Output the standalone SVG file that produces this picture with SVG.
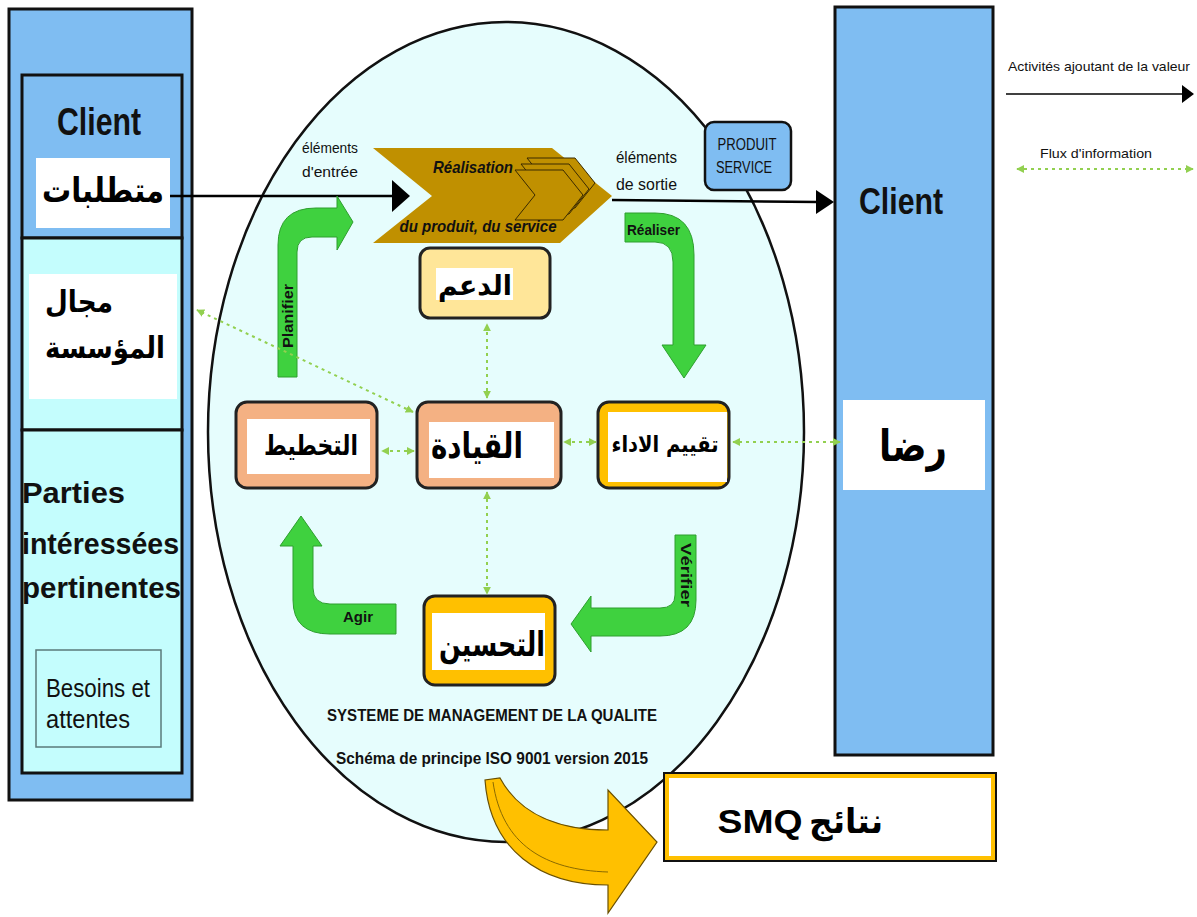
<svg xmlns="http://www.w3.org/2000/svg" width="1197" height="917" viewBox="0 0 1197 917">
  <style>
    .panel { fill: #7fbdf2; stroke: #111; stroke-width: 3; }
    .cyan { fill: #c4fdfd; stroke: #111; stroke-width: 3; }
    .white { fill: #ffffff; }
    .salmon { fill: #f4b183; stroke: #222; stroke-width: 3; }
    .gold { fill: #ffc000; stroke: #222; stroke-width: 3; }
    .pale { fill: #ffe699; stroke: #222; stroke-width: 3; }
    .green { fill: #3fd13f; stroke: #2e9e2e; stroke-width: 1; }
    .flow { stroke: #000; stroke-width: 2.5; fill: none; }
    .info { stroke: #92d050; stroke-width: 2; stroke-dasharray: 3 4; fill: none; marker-start: url(#dot-head); marker-end: url(#dot-head); }
    .ar { font-family: "DejaVu Sans", "Noto Sans", sans-serif; font-weight: bold; fill: #000; }
    .fr { font-family: "Liberation Sans", Arial, sans-serif; fill: #111; }
    .b { font-weight: bold; }
  </style>
  <defs>
    <marker id="dot-head" viewBox="0 0 10 10" refX="9" refY="5" markerWidth="4" markerHeight="4" orient="auto-start-reverse" markerUnits="strokeWidth">
      <path d="M0,0 L10,5 L0,10 Z" fill="#92d050"/>
    </marker>
  </defs>

  <!-- left column: client and interested parties -->
  <g id="left-panel">
    <rect class="panel" x="9" y="9" width="183" height="791"/>
  </g>
  <g id="client-left">
    <rect class="panel" x="22" y="75" width="160" height="163"/>
    <text class="fr b" x="99" y="135" font-size="38" text-anchor="middle" textLength="84" lengthAdjust="spacingAndGlyphs">Client</text>
    <rect class="white" x="36" y="158" width="134" height="70"/>
    <text class="ar" x="103" y="202" font-size="34" text-anchor="middle" textLength="122" lengthAdjust="spacingAndGlyphs">متطلبات</text>
  </g>
  <g id="organisation">
    <rect class="cyan" x="22" y="238" width="160" height="192"/>
    <rect class="white" x="29" y="274" width="148" height="125"/>
    <text class="ar" x="45" y="312" font-size="30" textLength="68" lengthAdjust="spacingAndGlyphs">مجال</text>
    <text class="ar" x="45" y="358" font-size="30" textLength="120" lengthAdjust="spacingAndGlyphs">المؤسسة</text>
  </g>
  <g id="parties">
    <rect class="cyan" x="22" y="430" width="160" height="343"/>
    <text class="fr b" x="22" y="503" font-size="30" textLength="103" lengthAdjust="spacingAndGlyphs">Parties</text>
    <text class="fr b" x="22" y="554" font-size="30" textLength="157" lengthAdjust="spacingAndGlyphs">intéressées</text>
    <text class="fr b" x="22" y="598" font-size="30" textLength="159" lengthAdjust="spacingAndGlyphs">pertinentes</text>
    <rect x="36" y="650" width="125" height="97" fill="#c4fdfd" stroke="#5a7a7a" stroke-width="1.5"/>
    <text class="fr" x="46" y="697" font-size="25" textLength="104" lengthAdjust="spacingAndGlyphs">Besoins et</text>
    <text class="fr" x="46" y="728" font-size="25" textLength="84" lengthAdjust="spacingAndGlyphs">attentes</text>
  </g>

  <!-- quality management system -->
  <g id="qms">
    <ellipse cx="506" cy="432" rx="298" ry="410" fill="#e6fdfd" stroke="#111" stroke-width="2.5"/>
    <text class="fr b" x="492" y="721" font-size="17" text-anchor="middle" textLength="330" lengthAdjust="spacingAndGlyphs" fill="#222">SYSTEME DE MANAGEMENT DE LA QUALITE</text>
    <text class="fr b" x="492" y="764" font-size="17" text-anchor="middle" textLength="312" lengthAdjust="spacingAndGlyphs" fill="#222">Schéma de principe ISO 9001 version 2015</text>
  </g>

  <!-- right column: client -->
  <g id="client-right">
    <rect class="panel" x="835" y="7" width="158" height="748"/>
    <text class="fr b" x="901" y="214" font-size="36" text-anchor="middle" textLength="84" lengthAdjust="spacingAndGlyphs">Client</text>
    <rect class="white" x="843" y="400" width="142" height="90"/>
    <text class="ar" x="913" y="461" font-size="44" text-anchor="middle" font-weight="normal" textLength="68" lengthAdjust="spacingAndGlyphs">رضا</text>
  </g>

  <!-- realisation chevron -->
  <g id="realisation">
    <polygon points="373,148 552,148 612,196 560,243 373,243 432,196" fill="#c09000"/>
    <g fill="#c09000" stroke="#3a2a00" stroke-width="1">
      <polygon points="527,158 575,158 595,183 575,208 527,208 547,183"/>
      <polygon points="521,164 569,164 589,189 569,214 521,214 541,189"/>
      <polygon points="515,170 563,170 583,195 563,220 515,220 535,195"/>
    </g>
    <text class="fr b" x="473" y="173" font-size="17" font-style="italic" text-anchor="middle" textLength="80" lengthAdjust="spacingAndGlyphs">Réalisation</text>
    <text class="fr b" x="478" y="232" font-size="17" font-style="italic" text-anchor="middle" textLength="157" lengthAdjust="spacingAndGlyphs">du produit, du service</text>
  </g>

  <g id="produit-service">
    <rect x="705" y="122" width="86" height="68" rx="9" fill="#7fbdf2" stroke="#111" stroke-width="2.5"/>
    <text class="fr" x="747" y="150" font-size="16" text-anchor="middle" textLength="59" lengthAdjust="spacingAndGlyphs" fill="#1c2c44">PRODUIT</text>
    <text class="fr" x="744" y="173" font-size="16" text-anchor="middle" textLength="56" lengthAdjust="spacingAndGlyphs" fill="#1c2c44">SERVICE</text>
  </g>

  <!-- process boxes -->
  <g id="support">
    <rect class="pale" x="420" y="248" width="130" height="70" rx="10"/>
    <rect class="white" x="436" y="268" width="77" height="32"/>
    <text class="ar" x="475" y="295" font-size="28" text-anchor="middle" textLength="74" lengthAdjust="spacingAndGlyphs">الدعم</text>
  </g>
  <g id="planning">
    <rect class="salmon" x="236" y="402" width="141" height="86" rx="11"/>
    <rect class="white" x="247" y="419" width="123" height="55"/>
    <text class="ar" x="311" y="455" font-size="28" text-anchor="middle" textLength="94" lengthAdjust="spacingAndGlyphs">التخطيط</text>
  </g>
  <g id="leadership">
    <rect class="salmon" x="417" y="402" width="144" height="86" rx="11"/>
    <rect class="white" x="429" y="422" width="125" height="56"/>
    <text class="ar" x="477" y="458" font-size="36" text-anchor="middle" textLength="92" lengthAdjust="spacingAndGlyphs">القيادة</text>
  </g>
  <g id="evaluation">
    <rect class="gold" x="598" y="402" width="131" height="86" rx="11"/>
    <rect class="white" x="608" y="412" width="119" height="70"/>
    <text class="ar" x="665" y="452" font-size="23" text-anchor="middle" font-weight="normal" textLength="107" lengthAdjust="spacingAndGlyphs">تقييم الاداء</text>
  </g>
  <g id="improvement">
    <rect class="gold" x="424" y="596" width="131" height="89" rx="11"/>
    <rect class="white" x="432" y="613" width="113" height="57"/>
    <text class="ar" x="492" y="656" font-size="34" text-anchor="middle" textLength="106" lengthAdjust="spacingAndGlyphs">التحسين</text>
  </g>

  <!-- results -->
  <g id="results">
    <rect x="664" y="773" width="332" height="88" fill="#fff" stroke="#111" stroke-width="2"/>
    <rect x="667" y="776" width="326" height="82" fill="none" stroke="#ffc000" stroke-width="4"/>
    <text x="760" y="833" font-size="34" text-anchor="middle" font-weight="bold" font-family="Liberation Sans, DejaVu Sans, sans-serif" textLength="85" lengthAdjust="spacingAndGlyphs">SMQ</text>
    <text class="ar" x="846" y="833" font-size="34" text-anchor="middle" textLength="74" lengthAdjust="spacingAndGlyphs">نتائج</text>
  </g>

  <!-- PDCA arrows and connectors -->
  <g id="connectors">
    <!-- value-adding flow -->
    <line class="flow" x1="170" y1="196" x2="394" y2="196"/>
    <polygon points="392,180 410,196 392,212" fill="#000"/>
    <line class="flow" x1="612" y1="200" x2="818" y2="202"/>
    <polygon points="816,190 834,202 816,214" fill="#000"/>
    <text class="fr" x="302" y="153" font-size="14" textLength="56" lengthAdjust="spacingAndGlyphs" fill="#333">éléments</text>
    <text class="fr" x="302" y="177" font-size="14" textLength="56" lengthAdjust="spacingAndGlyphs" fill="#333">d'entrée</text>
    <text class="fr" x="616" y="163" font-size="17" textLength="61" lengthAdjust="spacingAndGlyphs" fill="#222">éléments</text>
    <text class="fr" x="616" y="190" font-size="17" textLength="61" lengthAdjust="spacingAndGlyphs" fill="#222">de sortie</text>

    <!-- Planifier -->
    <path class="green" d="M278,377 L278,245 Q278,208 316,208 L337,208 L337,196 L353,222 L337,250 L337,237 L312,237 Q297,237 297,252 L297,377 Z"/>
    <text class="fr b" transform="translate(293,316) rotate(-90)" font-size="14" text-anchor="middle" textLength="64" lengthAdjust="spacingAndGlyphs">Planifier</text>
    <!-- Réaliser -->
    <path class="green" d="M625,213 L655,213 Q694,213 694,255 L694,345 L706,345 L684,378 L662,345 L673,345 L673,262 Q673,242 655,242 L625,242 Z"/>
    <text class="fr b" x="627" y="235" font-size="15" textLength="53" lengthAdjust="spacingAndGlyphs" fill="#1a3a1a">Réaliser</text>
    <!-- Vérifier -->
    <path class="green" d="M675,535 L696,535 L696,600 Q696,636 660,636 L591,636 L591,652 L571,624 L591,596 L591,608 L660,608 Q675,608 675,595 Z"/>
    <text class="fr b" transform="translate(681,575) rotate(90)" font-size="14" text-anchor="middle" textLength="64" lengthAdjust="spacingAndGlyphs">Vérifier</text>
    <!-- Agir -->
    <path class="green" d="M396,604 L330,604 Q313,604 313,588 L313,546 L322,546 L301,516 L280,546 L293,546 L293,600 Q293,634 330,634 L396,634 Z"/>
    <text class="fr b" x="343" y="622" font-size="15" textLength="30" lengthAdjust="spacingAndGlyphs">Agir</text>

    <!-- information flows -->
    <line class="info" x1="487" y1="398" x2="487" y2="324"/>
    <line class="info" x1="487" y1="492" x2="487" y2="594"/>
    <line class="info" x1="414" y1="451" x2="382" y2="451"/>
    <line class="info" x1="596" y1="442" x2="564" y2="442"/>
    <line class="info" x1="840" y1="442" x2="733" y2="442"/>
    <line class="info" x1="413" y1="412" x2="197" y2="310"/>

    <!-- results arrow -->
    <path d="M485,780 C490,850 540,885 608,885 L608,913 L657,842 L608,790 L608,830 C560,830 520,815 500,778 Z" fill="#ffc000" stroke="#6a5000" stroke-width="1.2"/>
    <path d="M493,782 C502,845 545,870 608,872" fill="none" stroke="#8a6a00" stroke-width="1"/>
  </g>

  <!-- legend -->
  <g id="legend">
    <text class="fr" x="1008" y="71" font-size="13" textLength="182" lengthAdjust="spacingAndGlyphs">Activités ajoutant de la valeur</text>
    <line x1="1006" y1="94" x2="1184" y2="94" stroke="#000" stroke-width="1.5"/>
    <polygon points="1182,85 1194,94 1182,103" fill="#000"/>
    <text class="fr" x="1040" y="158" font-size="13" textLength="112" lengthAdjust="spacingAndGlyphs">Flux d'information</text>
    <line class="info" x1="1017" y1="169" x2="1193" y2="169"/>
  </g>
</svg>
